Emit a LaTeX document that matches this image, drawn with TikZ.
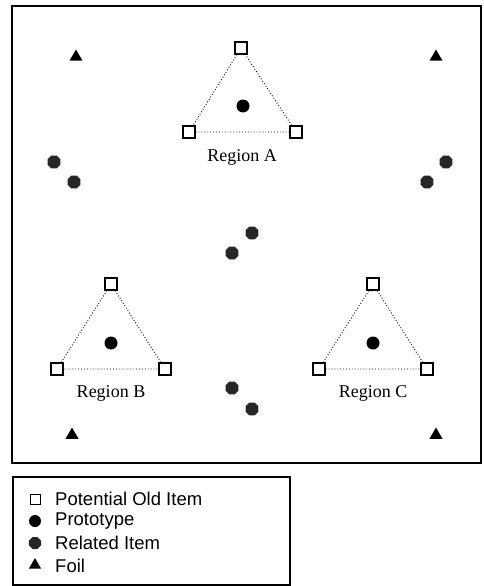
\documentclass[tikz,border=0pt]{standalone}
\usepackage{fontspec}
\setmainfont{Liberation Serif}
\newfontfamily\legendfont{Liberation Sans}
\usetikzlibrary{shapes.geometric}

\begin{document}
\begin{tikzpicture}[x=1pt,y=-1pt,
    olditem/.style={draw,line width=1.3pt,fill=white,minimum size=12pt,inner sep=0pt},
    proto/.style={circle,fill=black,minimum size=13pt,inner sep=0pt},
    related/.style={regular polygon,regular polygon sides=8,fill=black!85,minimum size=14pt,inner sep=0pt},
    foil/.style={regular polygon,regular polygon sides=3,fill=black,minimum size=15pt,inner sep=0pt},
    link/.style={dotted,line width=0.9pt},
    regionlabel/.style={font=\fontsize{18}{20}\selectfont},
    legendtext/.style={anchor=west,font=\legendfont\fontsize{18.5}{20}\selectfont,inner sep=0pt}]
        \useasboundingbox (0,0) rectangle (483,586);

        % Frames
        \draw[line width=1.2pt] (12,6) rectangle (481,463);
        \draw[line width=1.2pt] (13,477) rectangle (290,585);

        % Region A
        \node[olditem] (a1) at (241,48) {};
        \node[olditem] (a2) at (189,132) {};
        \node[olditem] (a3) at (296,132) {};
        \node[proto] (pa) at (243,106) {};
        \draw[link] (a1) -- (a2) -- (a3) -- (a1);
        \node[regionlabel] (la) at (242,157) {Region A};

        % Region B
        \node[olditem] (b1) at (111,284) {};
        \node[olditem] (b2) at (57,369) {};
        \node[olditem] (b3) at (165,369) {};
        \node[proto] (pb) at (111,343) {};
        \draw[link] (b1) -- (b2) -- (b3) -- (b1);
        \node[regionlabel] (lb) at (111,393) {Region B};

        % Region C
        \node[olditem] (c1) at (373,284) {};
        \node[olditem] (c2) at (319,369) {};
        \node[olditem] (c3) at (427,369) {};
        \node[proto] (pc) at (373,343) {};
        \draw[link] (c1) -- (c2) -- (c3) -- (c1);
        \node[regionlabel] (lc) at (373,393) {Region C};

        % Related items
        \node[related] (r1) at (54,162) {};
        \node[related] (r2) at (74,182) {};
        \node[related] (r3) at (446,162) {};
        \node[related] (r4) at (427,182) {};
        \node[related] (r5) at (252,233) {};
        \node[related] (r6) at (232,253) {};
        \node[related] (r7) at (232,388) {};
        \node[related] (r8) at (252,409) {};

        % Foils
        \node[foil] (f1) at (76,57) {};
        \node[foil] (f2) at (436,57) {};
        \node[foil] (f3) at (72,435) {};
        \node[foil] (f4) at (436,435) {};

        % Legend
        \node[olditem,minimum size=10pt,line width=1pt] (k1) at (35,499) {};
        \node[proto,minimum size=12pt] (k2) at (35,521) {};
        \node[related,minimum size=13pt] (k3) at (35,543) {};
        \node[foil,minimum size=14pt] (k4) at (35,565) {};
        \node[legendtext] (t1) at (55,499) {Potential Old Item};
        \node[legendtext] (t2) at (55,521) {Prototype};
        \node[legendtext] (t3) at (55,543) {Related Item};
        \node[legendtext] (t4) at (55,566) {Foil};
    \end{tikzpicture}
\end{document}
